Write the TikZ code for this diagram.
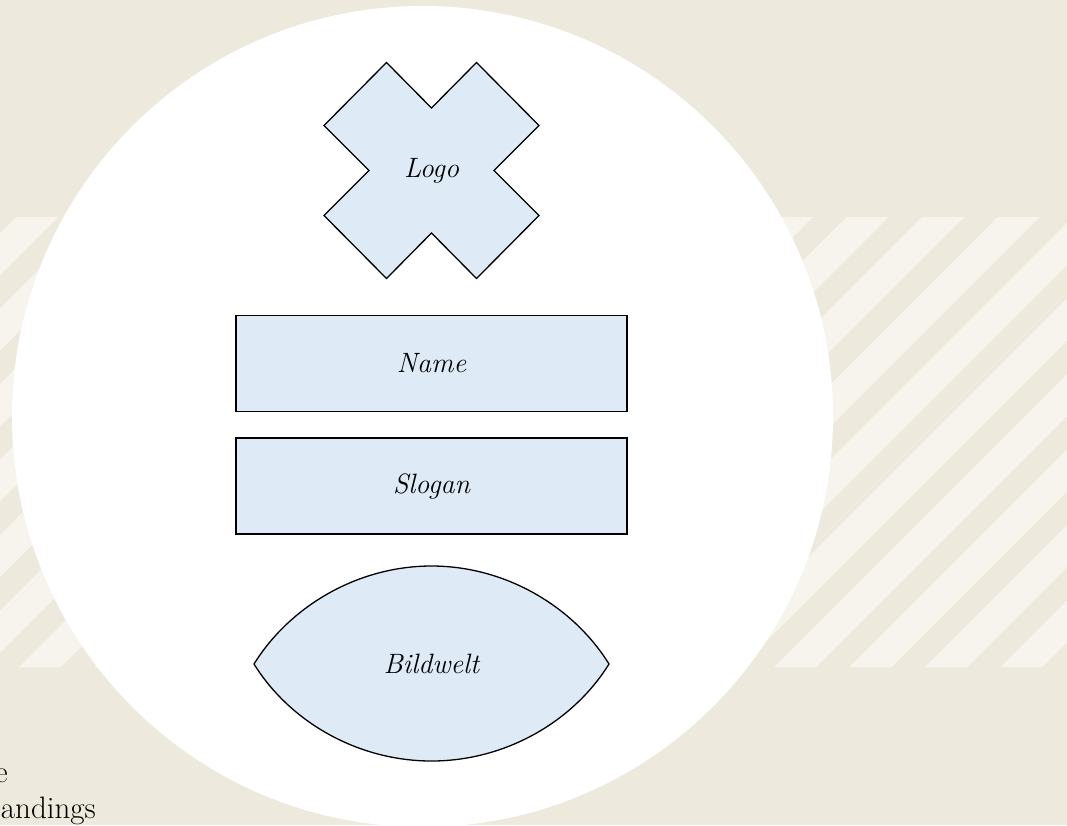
\documentclass[tikz,border=0pt]{standalone}
\usepackage{tikz}

\definecolor{paper}{RGB}{237,234,221}
\definecolor{stripe}{RGB}{246,244,237}
\definecolor{partfill}{RGB}{222,235,247}

\tikzset{
  part/.style={draw=black,fill=partfill,line width=1.3pt,line join=miter},
  partlabel/.style={font=\fontsize{28}{32}\selectfont\itshape,inner sep=0pt},
  barbox/.style={part,rectangle,minimum width=391pt,minimum height=96pt,
    font=\fontsize{28}{32}\selectfont\itshape},
  sidetext/.style={font=\fontsize{31}{36}\selectfont,inner sep=0pt,anchor=base east}
}

\begin{document}
\begin{tikzpicture}[x=1pt,y=-1pt]
\useasboundingbox (0,0) rectangle (1067,825);
% background and stripe band
\fill[paper] (0,0) rectangle (1067,825);
\begin{scope}
\clip (0,217) rectangle (1067,667);
\foreach \k in {0,...,20}
  \fill[stripe] ({16+75.5*\k},217) -- ({58+75.5*\k},217)
    -- ({58+75.5*\k-450},667) -- ({16+75.5*\k-450},667) -- cycle;
\end{scope}
\fill[white] (422.5,416.5) circle[radius=410.5];

% Logo
\draw[part] (386.5,62.5) -- (431.5,108) -- (476.5,62.5) -- (539,125.5)
  -- (494,170.5) -- (539,215.5) -- (476.5,278.5) -- (431.5,233)
  -- (386.5,278.5) -- (324,215.5) -- (369,170.5) -- (324,125.5) -- cycle;
\node[partlabel] (logo) at (431.5,170.5) {Logo};

% Name and slogan
\node[barbox] (name) at (431.5,363.3) {Name};
\node[barbox] (slogan) at (431.5,486) {Slogan};

% Bildwelt
\draw[part] (254,664) .. controls (290,606) and (358,566) .. (431.5,566)
  .. controls (505,566) and (573,606) .. (609,664)
  .. controls (573,722) and (505,761) .. (431.5,761)
  .. controls (358,761) and (290,722) .. (254,664) -- cycle;
\node[partlabel] (bildwelt) at (431.5,663.5) {Bildwelt};

% cut-off text
\node[sidetext] (side1) at (8,782) {e};
\node[sidetext] (side2) at (96,818) {andings};
\end{tikzpicture}
\end{document}
